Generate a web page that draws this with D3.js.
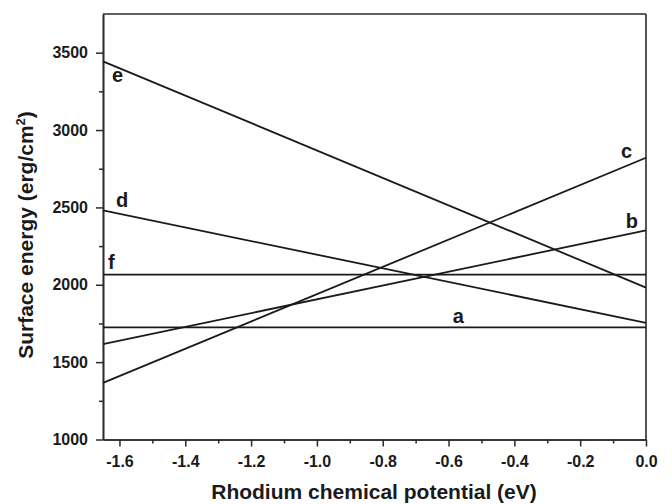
<!DOCTYPE html>
<html>
<head>
<meta charset="utf-8">
<script src="https://cdn.jsdelivr.net/npm/d3@7"></script>
<style>
  html, body { margin: 0; padding: 0; background: #fff; }
  svg { display: block; }
  text { font-family: "Liberation Sans", Arial, Helvetica, sans-serif; font-weight: bold; fill: #1a1a1a; }
</style>
</head>
<body>
<svg id="chart" width="672" height="504"></svg>
<script>
// ---- data ----
const seriesNames = ["a", "b", "c", "d", "e", "f"];
const xEndpoints = [-1.65, 0.0];
const valuesA = [1725, 1725];
const valuesB = [1616, 2352];
const valuesC = [1366, 2821];
const valuesD = [2481, 1754];
const valuesE = [3444, 1982];
const valuesF = [2065, 2065];
const seriesValues = [valuesA, valuesB, valuesC, valuesD, valuesE, valuesF];
const xTickValues = [-1.6, -1.4, -1.2, -1.0, -0.8, -0.6, -0.4, -0.2, 0.0];
const xMinorTicks = [-1.5, -1.3, -1.1, -0.9, -0.7, -0.5, -0.3, -0.1];
const yTickValues = [1000, 1500, 2000, 2500, 3000, 3500];
const yMinorTicks = [1250, 1750, 2250, 2750, 3250];
const xDomain = [-1.65, 0.0];
const yDomain = [1000, 3750];

// ---- layout ----
const W = 672, H = 504;
const margin = { left: 103, right: 26, top: 14, bottom: 64.5 };
const iw = W - margin.left - margin.right;
const ih = H - margin.top - margin.bottom;

const svg = d3.select("#chart");
const g = svg.append("g").attr("transform", `translate(${margin.left},${margin.top})`);

const x = d3.scaleLinear().domain(xDomain).range([0, iw]);
const y = d3.scaleLinear().domain(yDomain).range([ih, 0]);

const axisColor = "#2a2a2a";

// frame top and right
g.append("line").attr("x1", 0).attr("x2", iw).attr("y1", 0).attr("y2", 0)
  .attr("stroke", axisColor).attr("stroke-width", 1.6);
g.append("line").attr("x1", iw).attr("x2", iw).attr("y1", 0).attr("y2", ih)
  .attr("stroke", axisColor).attr("stroke-width", 1.6);

// axes
const fmtX = d => d3.format(".1f")(d).replace("−", "-");
const xAxis = g.append("g").attr("transform", `translate(0,${ih})`)
  .call(d3.axisBottom(x).tickValues(xTickValues).tickFormat(fmtX).tickSize(7).tickPadding(9.5).tickSizeOuter(0));
const xMinor = g.append("g").attr("transform", `translate(0,${ih})`)
  .call(d3.axisBottom(x).tickValues(xMinorTicks).tickFormat("").tickSize(4).tickSizeOuter(0));

const yAxis = g.append("g")
  .call(d3.axisLeft(y).tickValues(yTickValues).tickFormat(d3.format("d")).tickSize(7).tickPadding(8).tickSizeOuter(0));
const yMinor = g.append("g")
  .call(d3.axisLeft(y).tickValues(yMinorTicks).tickFormat("").tickSize(4).tickSizeOuter(0));

[xAxis, xMinor, yAxis, yMinor].forEach(a => {
  a.select(".domain").attr("stroke", axisColor).attr("stroke-width", 1.6);
  a.selectAll(".tick line").attr("stroke", axisColor).attr("stroke-width", 1.5);
  a.selectAll(".tick text")
    .style("font-family", '"Liberation Sans", Arial, sans-serif')
    .style("font-weight", "bold").style("font-size", "16px").attr("fill", "#1a1a1a");
});

// lines
const lineGen = d3.line().x((d, i) => x(xEndpoints[i])).y(d => y(d));
g.selectAll("path.series").data(seriesValues).enter().append("path")
  .attr("class", "series")
  .attr("d", d => lineGen(d))
  .attr("fill", "none").attr("stroke", "#1a1a1a").attr("stroke-width", 1.8);

// series labels (placed near the line ends)
const labelPlace = {
  a: v => ({ x: x(-0.57), y: y(v[0]) - 4, anchor: "middle" }),
  b: v => ({ x: x(0) - 8, y: y(v[1]) - 2, anchor: "end" }),
  c: v => ({ x: x(0) - 14, y: y(v[1]), anchor: "end" }),
  d: v => ({ x: x(-1.65) + 13, y: y(v[0]) - 3, anchor: "start" }),
  e: v => ({ x: x(-1.65) + 9, y: y(v[0]) + 21, anchor: "start" }),
  f: v => ({ x: x(-1.65) + 5, y: y(v[0]) - 6, anchor: "start" })
};
seriesNames.forEach((name, i) => {
  const p = labelPlace[name](seriesValues[i]);
  g.append("text").attr("x", p.x).attr("y", p.y).attr("text-anchor", p.anchor)
    .style("font-size", "20px").text(name);
});

// axis titles
svg.append("text").attr("x", margin.left + iw / 2 - 0.5).attr("y", 499)
  .attr("text-anchor", "middle").style("font-size", "21px")
  .text("Rhodium chemical potential (eV)");

const yt = svg.append("text").attr("transform", "translate(33,235) rotate(-90)")
  .attr("text-anchor", "middle").style("font-size", "21px");
yt.append("tspan").text("Surface energy (erg/cm");
yt.append("tspan").attr("dy", -8).style("font-size", "13px").text("2");
yt.append("tspan").attr("dy", 8).text(")");
</script>
</body>
</html>
